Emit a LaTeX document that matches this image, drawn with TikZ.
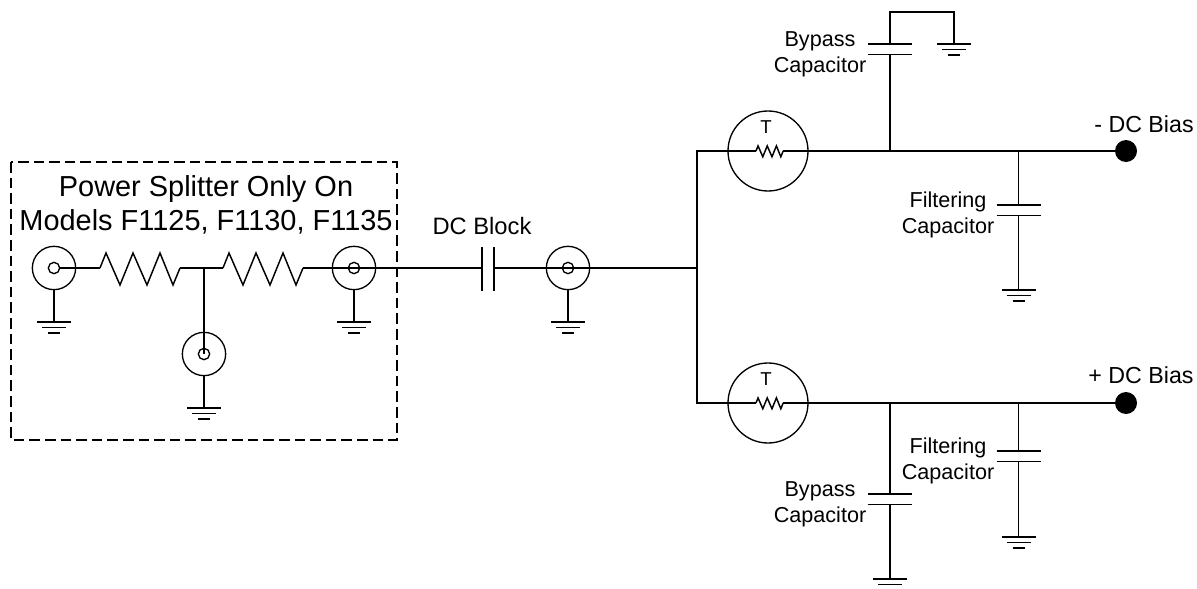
\documentclass[tikz,border=0pt]{standalone}
\usepackage{fontspec}
\setmainfont{Liberation Sans}
\tikzset{
  wire/.style={line width=1.1pt},
  bnc/.style={draw,circle,line width=1pt,inner sep=0pt,minimum size=32.5pt},
  bnccore/.style={draw,circle,line width=1pt,inner sep=0pt,minimum size=8.5pt},
  thermo/.style={draw,circle,line width=1pt,inner sep=0pt,minimum size=60pt},
  terminal/.style={fill,circle,inner sep=0pt,minimum size=16.5pt},
  smalltext/.style={align=center,inner sep=0pt,font=\fontsize{16.2}{19.5}\selectfont},
  biastext/.style={inner sep=0pt,font=\fontsize{17.4}{20}\selectfont},
  gnd/.pic={
    \draw[wire] (-17,0) -- (17,0);
    \draw[wire] (-12,5.5) -- (12,5.5);
    \draw[wire] (-6,11) -- (6,11);
  },
  zigzag/.pic={
    \draw[wire] (0,0) -- (6,-15) -- (20,17) -- (33,-15) -- (47,17) -- (60,-15) -- (73,17) -- (80,0);
  },
  plateh/.pic={
    \draw[wire] (-22,0) -- (22,0);
    \draw[wire] (-22,10.5) -- (22,10.5);
  }
}
\begin{document}
\begin{tikzpicture}[x=0.75pt,y=-0.75pt]
  \useasboundingbox (0,0) rectangle (1197,589);
  % splitter box
  \draw[line width=1pt,dash pattern=on 8pt off 3.7pt] (11,162) rectangle (397,440);
  \node[align=center,inner sep=0pt,font=\fontsize{21.7}{25.5}\selectfont] (title) at (206,205) {Power Splitter Only On\\Models F1125, F1130, F1135};
  % connectors
  \node[bnc] (J1) at (54,268) {};
  \node[bnc] (J2) at (354,268) {};
  \node[bnc] (J3) at (204,354) {};
  \node[bnc] (J4) at (568,268) {};
  \node[bnccore] (C1) at (J1) {};
  \node[bnccore] (C2) at (J2) {};
  \node[bnccore] (C3) at (J3) {};
  \node[bnccore] (C4) at (J4) {};
  \coordinate (G1) at (54,322);
  \coordinate (G2) at (354,322);
  \coordinate (G3) at (204,408);
  \coordinate (G4) at (568,322);
  \foreach \i in {1,2,3,4} {
    \pic at (G\i) {gnd};
    \draw[wire] (J\i) -- (G\i);
  }
  % splitter resistors
  \coordinate (R1a) at (100,268);
  \coordinate (R1b) at (180,268);
  \coordinate (R2a) at (223,268);
  \coordinate (R2b) at (303,268);
  \coordinate (TEE) at (204,268);
  \pic at (R1a) {zigzag};
  \pic at (R2a) {zigzag};
  \draw[wire] (C1) -- (R1a);
  \draw[wire] (R1b) -- (R2a);
  \draw[wire] (TEE) -- (C3.center);
  \draw[wire] (R2b) -- (C2.center);
  % dc block
  \coordinate (B1) at (482,268);
  \coordinate (B2) at (494,268);
  \draw[wire] (482,247) -- (482,291);
  \draw[wire] (494,247) -- (494,291);
  \node[biastext,font=\fontsize{17.8}{20}\selectfont] (block) at (482,226) {DC Block};
  \draw[wire] (C2.center) -- (B1);
  \draw[wire] (B2) -- (C4.center);
  % branches
  \coordinate (TOP) at (697,151);
  \coordinate (MID) at (697,268);
  \coordinate (BOT) at (697,403);
  \draw[wire] (C4.center) -- (MID);
  \node[thermo] (T1) at (768,151) {};
  \node[thermo] (T2) at (768,403) {};
  \node[inner sep=0pt,font=\fontsize{14}{16}\selectfont] (T1text) at (766,127) {T};
  \node[inner sep=0pt,font=\fontsize{14}{16}\selectfont] (T2text) at (766,379) {T};
  \coordinate (Z1a) at (756,151);
  \coordinate (Z1b) at (783,151);
  \coordinate (Z2a) at (756,403);
  \coordinate (Z2b) at (783,403);
  \pic[scale=0.34] at (Z1a) {zigzag};
  \pic[scale=0.34] at (Z2a) {zigzag};
  \node[terminal] (P1) at (1126,151) {};
  \node[terminal] (P2) at (1126,403) {};
  \draw[wire] (Z1a) -- (TOP) -- (BOT) -- (Z2a);
  \draw[wire] (Z1b) -- (P1);
  \draw[wire] (Z2b) -- (P2);
  \node[biastext] (minus) at (1144,124) {- DC Bias};
  \node[biastext] (plus) at (1141,375) {+ DC Bias};
  % upper capacitors
  \coordinate (UB) at (890,151);
  \coordinate (UBp) at (890,44);
  \coordinate (UBq) at (890,54.5);
  \coordinate (UBt) at (890,12);
  \coordinate (UBr) at (954,12);
  \coordinate (G5) at (954,44);
  \pic at (UBp) {plateh};
  \pic at (G5) {gnd};
  \draw[wire] (UB) -- (UBq);
  \draw[wire] (UBp) -- (UBt) -- (UBr) -- (G5);
  \node[smalltext] (UBtext) at (820,54) {Bypass\\Capacitor};
  \coordinate (UF) at (1018.5,151);
  \coordinate (UFp) at (1018.5,205);
  \coordinate (UFq) at (1018.5,215.5);
  \coordinate (G6) at (1018.5,290);
  \pic at (UFp) {plateh};
  \pic at (G6) {gnd};
  \draw[wire] (UF) -- (UFp);
  \draw[wire] (UFq) -- (G6);
  \node[smalltext] (UFtext) at (948,215) {Filtering\\Capacitor};
  % lower capacitors
  \coordinate (LB) at (890,403);
  \coordinate (LBp) at (890,494);
  \coordinate (LBq) at (890,504.5);
  \coordinate (G7) at (890,579);
  \pic at (LBp) {plateh};
  \pic at (G7) {gnd};
  \draw[wire] (LB) -- (LBp);
  \draw[wire] (LBq) -- (G7);
  \node[smalltext] (LBtext) at (820,504) {Bypass\\Capacitor};
  \coordinate (LF) at (1018.5,403);
  \coordinate (LFp) at (1018.5,451);
  \coordinate (LFq) at (1018.5,461.5);
  \coordinate (G8) at (1018.5,537);
  \pic at (LFp) {plateh};
  \pic at (G8) {gnd};
  \draw[wire] (LF) -- (LFp);
  \draw[wire] (LFq) -- (G8);
  \node[smalltext] (LFtext) at (948,461) {Filtering\\Capacitor};
\end{tikzpicture}
\end{document}
